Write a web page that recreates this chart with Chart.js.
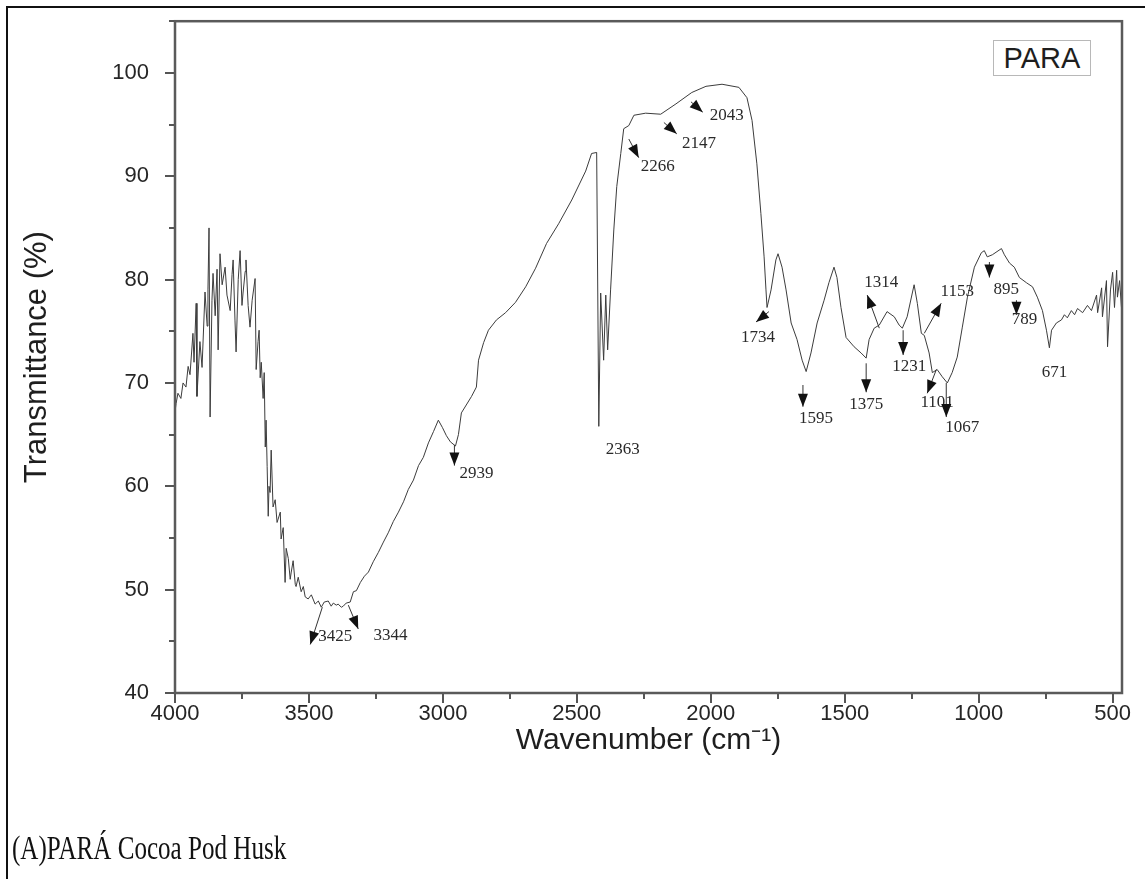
<!DOCTYPE html>
<html>
<head>
<meta charset="utf-8">
<script src="https://cdn.jsdelivr.net/npm/chart.js@4.4.1/dist/chart.umd.min.js"></script>
<style>
  html, body { margin: 0; padding: 0; background: #fff; }
  #wrap { position: relative; width: 1145px; height: 879px; overflow: hidden; }
  #frame { position: absolute; left: 6px; top: 6px; width: 1150px; height: 880px;
           border-left: 2px solid #111; border-top: 2px solid #111; pointer-events: none; }
  canvas { position: absolute; left: 0; top: -18px; }
  #legendBox { position: absolute; left: 993px; top: 40px; width: 96px; height: 34px;
               border: 1px solid #b8b8b8; font-family: 'Liberation Sans', Arial, sans-serif;
               font-size: 29px; line-height: 34px; text-align: center; color: #1e1e1e; background: #fff; }
  #caption { position: absolute; left: 12px; top: 830px; font-family: 'Liberation Serif', 'Times New Roman', serif;
             font-size: 33px; color: #111; white-space: nowrap; transform: scaleX(0.76); transform-origin: left top; }
</style>
</head>
<body>
<div id="wrap">
  <canvas id="c" width="1145" height="897"></canvas>
  <div id="frame"></div>
  <div id="legendBox">PARA</div>
  <div id="caption">(A)PARÁ Cocoa Pod Husk</div>
</div>
<script>
// ---- Data ----
const wavenumbers = [
  4000,3996,3989,3978,3970,3959,3951,3944,3933,3929,3921,3918,3907,3899,3888,3880,3877,3873,3869,3862,
  3858,3850,3843,3839,3832,3824,3813,3806,3794,3787,3783,3776,3772,3764,3757,3750,3746,3738,3735,3727,
  3720,3712,3701,3697,3690,3686,3682,3678,3671,3667,3663,3660,3656,3652,3649,3645,3641,3634,3626,3619,
  3607,3604,3596,3589,3585,3577,3570,3566,3559,3551,3548,3540,3529,3521,3514,3503,3491,3477,3465,3454,
  3443,3428,3417,3409,3398,3391,3379,3372,3361,3346,3334,3323,3308,3293,3278,3260,3241,3222,3204,3185,
  3166,3147,3129,3110,3091,3073,3054,3035,3017,3002,2987,2972,2953,2942,2931,2893,2875,2867,2848,2830,
  2800,2766,2729,2691,2654,2613,2568,2519,2467,2445,2426,2418,2411,2400,2392,2385,2374,2362,2351,2336,
  2325,2306,2287,2243,2187,2130,2071,2018,1958,1895,1865,1846,1828,1813,1801,1794,1790,1775,1757,1749,
  1734,1719,1700,1678,1659,1644,1626,1603,1577,1559,1540,1529,1514,1495,1465,1439,1420,1409,1390,1371,
  1342,1315,1297,1285,1267,1241,1229,1214,1203,1185,1173,1155,1136,1117,1099,1080,1061,1042,1016,990,
  979,968,949,915,904,885,867,848,822,799,781,762,747,736,728,710,691,680,669,654,
  642,631,612,594,579,560,556,541,538,523,519,508,500,493,485,482,474,467
];
const transmittance = [
  67.2,68.0,69.0,68.5,70.0,69.6,71.6,70.8,74.8,72.0,77.7,68.7,74.0,71.5,78.8,75.5,79.0,85.0,66.7,78.0,
  80.6,76.5,81.0,73.2,82.5,79.5,81.2,78.5,77.0,80.5,81.9,76.0,73.0,80.0,82.8,77.5,78.7,80.8,81.9,77.5,
  75.4,78.0,80.1,71.3,74.0,75.1,70.5,72.0,68.5,71.0,63.8,66.4,61.9,57.1,60.0,59.4,63.5,58.0,58.7,56.5,
  57.5,54.9,56.0,50.7,54.0,53.0,51.0,51.7,52.8,50.5,50.3,51.2,49.8,50.3,49.3,49.1,49.5,48.6,48.9,48.3,
  48.8,48.9,48.4,48.7,48.5,48.6,48.3,48.4,48.7,48.8,49.8,49.9,50.7,51.3,51.7,52.7,53.6,54.6,55.5,56.6,
  57.5,58.5,59.7,60.6,62.0,62.8,64.2,65.3,66.4,65.7,64.9,64.3,63.9,65.0,67.1,68.7,69.6,72.2,73.9,75.1,
  76.1,76.8,77.8,79.3,81.1,83.5,85.4,87.7,90.5,92.2,92.3,65.8,78.7,72.2,78.5,73.2,79.0,84.8,89.0,92.2,
  94.6,94.9,95.9,96.1,96.0,97.0,98.1,98.7,98.9,98.6,97.6,95.4,91.2,86.4,82.2,79.0,77.3,79.0,81.9,82.5,
  81.2,79.0,75.8,74.2,72.2,71.1,72.9,75.8,78.0,79.7,81.2,80.2,77.3,74.4,73.5,72.9,72.4,74.2,75.3,75.6,
  76.9,76.4,75.6,75.3,76.4,79.5,77.7,74.8,74.6,72.9,71.0,71.3,70.6,70.0,71.0,72.5,75.4,78.3,81.2,82.6,
  82.8,82.2,82.4,83.0,82.4,81.6,81.2,80.2,79.7,79.3,78.3,77.0,75.1,73.4,75.1,75.8,76.1,76.6,76.3,77.0,
  76.6,77.2,76.8,77.5,77.0,78.5,76.8,79.2,76.4,79.9,73.5,79.0,80.7,77.3,80.9,78.3,79.9,77.3
];

// Axis tick values
const xTickValues = [4000,3750,3500,3250,3000,2750,2500,2250,2000,1750,1500,1250,1000,750,500];
const xTickLabels = ['4000','','3500','','3000','','2500','','2000','','1500','','1000','','500'];
const yTickValues = [40,45,50,55,60,65,70,75,80,85,90,95,100,105];
const yTickLabels = ['40','','50','','60','','70','','80','','90','','100',''];

// Peak annotations (label text, label position, arrow tail and tip in data units)
const peakLabels = ['3425','3344','2939','2363','2266','2147','2043','1734','1595','1375','1314','1231','1153','1101','1067','895','789','671'];
const labelWn    = [3402,3196,2875,2329,2198,2044,1940,1824,1607,1420,1364,1259,1080,1155,1061,897,829,717];
const labelT     = [45.5,45.6,61.2,63.6,90.9,93.2,95.9,74.4,66.6,67.9,79.7,71.6,78.8,68.1,65.7,79.0,76.1,71.0];
const arrowTailWn = [3450,3353,2957,null,2306,2175,2074,1783,1656,1420,1371,1282,1203,1158,1121,960,859,null];
const arrowTailT  = [48.3,48.5,64.0,null,93.6,95.2,97.2,76.9,69.8,71.9,75.3,75.1,74.8,71.3,70.0,81.7,78.0,null];
const arrowTipWn  = [3495,3316,2957,null,2269,2127,2030,1831,1656,1420,1416,1282,1140,1192,1121,960,859,null];
const arrowTipT   = [44.7,46.2,62.0,null,91.8,94.1,96.2,75.9,67.7,69.1,78.5,72.7,77.7,69.0,66.7,80.2,76.6,null];

const xMin = 465, xMax = 4000;
const yMin = 40, yMax = 105;

const points = wavenumbers.map((w, i) => ({ x: w, y: transmittance[i] }));

const framePlugin = {
  id: 'frameTicks',
  afterDraw(chart) {
    const { ctx, chartArea: a, scales } = chart;
    ctx.save();
    ctx.strokeStyle = '#555';
    ctx.lineWidth = 2;
    scales.x.ticks.forEach(t => {
      const px = Math.round(scales.x.getPixelForValue(t.value));
      const len = (t.label !== '') ? 10 : 6;
      ctx.beginPath(); ctx.moveTo(px, a.bottom); ctx.lineTo(px, a.bottom + len); ctx.stroke();
    });
    scales.y.ticks.forEach(t => {
      const py = Math.round(scales.y.getPixelForValue(t.value));
      const len = (t.label !== '') ? 10 : 6;
      ctx.beginPath(); ctx.moveTo(a.left, py); ctx.lineTo(a.left - len, py); ctx.stroke();
    });
    ctx.strokeStyle = '#5a5a5a';
    ctx.lineWidth = 2.5;
    ctx.strokeRect(a.left, a.top, a.right - a.left, a.bottom - a.top);

    ctx.strokeStyle = '#333';
    ctx.lineWidth = 1;
    for (let i = 0; i < peakLabels.length; i++) {
      if (arrowTailWn[i] !== null) {
        const tx = scales.x.getPixelForValue(arrowTailWn[i]);
        const ty = scales.y.getPixelForValue(arrowTailT[i]);
        const hx = scales.x.getPixelForValue(arrowTipWn[i]);
        const hy = scales.y.getPixelForValue(arrowTipT[i]);
        const ang = Math.atan2(hy - ty, hx - tx);
        ctx.beginPath(); ctx.moveTo(tx, ty); ctx.lineTo(hx, hy); ctx.stroke();
        const L = 13, W = 5;
        const bx = hx - L * Math.cos(ang), by = hy - L * Math.sin(ang);
        ctx.fillStyle = '#111';
        ctx.beginPath();
        ctx.moveTo(hx, hy);
        ctx.lineTo(bx + W * Math.sin(ang), by - W * Math.cos(ang));
        ctx.lineTo(bx - W * Math.sin(ang), by + W * Math.cos(ang));
        ctx.closePath();
        ctx.fill();
      }
      ctx.font = '17px "Liberation Serif", "Times New Roman", serif';
      ctx.fillStyle = '#2a2a2a';
      ctx.textAlign = 'center';
      ctx.textBaseline = 'middle';
      ctx.fillText(peakLabels[i], scales.x.getPixelForValue(labelWn[i]), scales.y.getPixelForValue(labelT[i]));
    }
    ctx.restore();
  }
};

new Chart(document.getElementById('c'), {
  type: 'line',
  data: {
    datasets: [{
      label: 'PARA',
      data: points,
      borderColor: '#3c3c3c',
      borderWidth: 1,
      pointRadius: 0,
      tension: 0,
      fill: false
    }]
  },
  options: {
    responsive: false,
    animation: false,
    layout: { padding: { left: 19, top: 2, right: 23, bottom: 120 } },
    plugins: { legend: { display: false }, tooltip: { enabled: false } },
    scales: {
      x: {
        type: 'linear',
        reverse: true,
        min: xMin,
        max: xMax,
        grid: { display: false, drawTicks: false },
        border: { display: false },
        afterBuildTicks(scale) {
          scale.ticks = xTickValues.map(v => ({ value: v }));
        },
        afterFit(scale) { scale.height = 66; },
        ticks: {
          autoSkip: false,
          maxRotation: 0,
          padding: 8,
          color: '#262626',
          font: { family: '"Liberation Sans", Arial, sans-serif', size: 22 },
          callback: (v) => xTickLabels[xTickValues.indexOf(v)] ?? ''
        },
        title: {
          display: true,
          text: 'Wavenumber (cm\u207B\u00B9)',
          color: '#1e1e1e',
          font: { family: '"Liberation Sans", Arial, sans-serif', size: 30 },
          padding: { top: 0, bottom: 0 }
        }
      },
      y: {
        type: 'linear',
        min: yMin,
        max: yMax,
        grid: { display: false, drawTicks: false },
        border: { display: false },
        afterBuildTicks(scale) {
          scale.ticks = yTickValues.map(v => ({ value: v }));
        },
        afterFit(scale) { scale.width = 156; },
        ticks: {
          autoSkip: false,
          padding: 26,
          color: '#262626',
          font: { family: '"Liberation Sans", Arial, sans-serif', size: 22 },
          callback: (v) => yTickLabels[yTickValues.indexOf(v)] ?? ''
        },
        title: {
          display: true,
          text: 'Transmittance (%)',
          color: '#1e1e1e',
          font: { family: '"Liberation Sans", Arial, sans-serif', size: 31 },
          padding: { top: 0, bottom: 0 }
        }
      }
    }
  },
  plugins: [framePlugin]
});
</script>
</body>
</html>
